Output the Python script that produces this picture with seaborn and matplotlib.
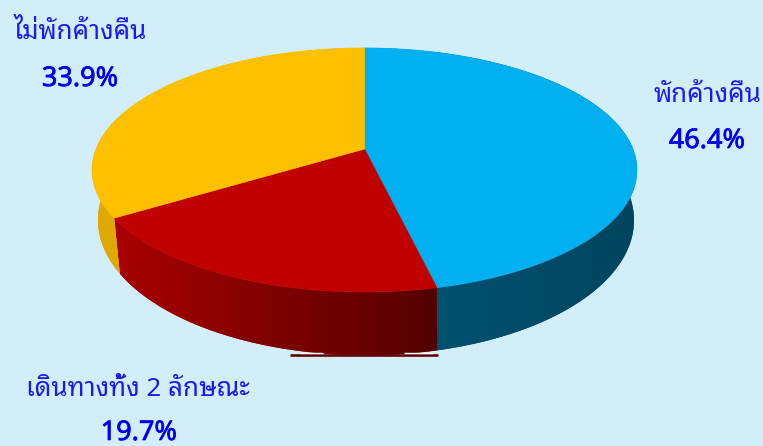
import numpy as np
import matplotlib
matplotlib.use("Agg")
import matplotlib.pyplot as plt
import matplotlib.patheffects as pe
from matplotlib.patches import Polygon
import seaborn as sns

# Data
categories = ["พักค้างคืน", "เดินทางทั้ง 2 ลักษณะ", "ไม่พักค้างคืน"]
shares = [46.4, 19.7, 33.9]

# Colors
bg_color = "#D1EEF9"
top_colors = ["#00B0F0", "#C00000", "#FFC000"]
side_colors = [["#00516F", "#00455F"], ["#A80000", "#520000"], ["#E0A900", "#E0A900"]]

# Label positions in pixels (name x, name y, pct x, pct y)
label_pos = [(707.5, 95, 707, 141), (138, 390, 139, 433), (80.5, 32, 80, 79)]

sns.set_theme(style="white")
plt.rcParams["font.family"] = ["Noto Sans Thai Looped", "Noto Sans Thai", "Sarabun", "Noto Sans", "DejaVu Sans"]

fig = plt.figure(figsize=(7.63, 4.46), dpi=100, facecolor=bg_color)
ax = fig.add_axes([0, 0, 1, 1])

# let the pie work out the slice angles, then tilt them by hand
wedges, _ = ax.pie(shares, startangle=90, counterclock=False, colors=top_colors)
angles = [(w.theta1, w.theta2) for w in wedges]
for w in wedges:
    w.remove()

ax.set_aspect("auto")
ax.axis("off")


def project(theta, width, height, cy, cx=364.5, tilt=0.172):
    # perspective view of the unit circle
    t = np.radians(theta)
    x, y = np.cos(t), np.sin(t)
    w = 1 + tilt * y
    return cx + width * x / w, cy - height * y / w


top = dict(width=268.4, height=118.4, cy=149)
bottom = dict(width=264, height=131, cy=197, cx=366)

# sides first, the top face covers their back half
for (t1, t2), cols in zip(angles, side_colors):
    theta = np.linspace(t1, t2, 200)
    xt, yt = project(theta, **top)
    xb, yb = project(theta, **bottom)
    outline = np.r_[np.c_[xt, yt], np.c_[xb, yb][::-1]]
    shape = Polygon(outline, closed=True, fc=cols[0], ec="none", zorder=0.5)
    ax.add_patch(shape)
    # gradient runs from left to right over the front of the slice
    front = project(theta[np.sin(np.radians(theta)) < 0.2], **bottom)[0]
    cmap = sns.blend_palette(cols, as_cmap=True)
    img = ax.imshow(np.linspace(0, 1, 256)[None, :], cmap=cmap, aspect="auto",
                    extent=(front.min(), front.max(), 446, 0), zorder=1)
    img.set_clip_path(shape)

for (t1, t2), col in zip(angles, top_colors):
    xt, yt = project(np.linspace(t1, t2, 200), **top)
    pts = np.r_[[[364.5, top["cy"]]], np.c_[xt, yt]]
    ax.add_patch(Polygon(pts, closed=True, fc=col, ec=col, lw=0.5, zorder=2))

# the source image is cut off flat under the pie, with white slivers beside it
ax.hlines(355.4, 290, 438, color="#680000", lw=1.9, zorder=1.5)
ax.hlines([352.8, 352.8], [300, 404], [323, 432], color="white", lw=1, zorder=1.5)

ax.set_xlim(0, 763)
ax.set_ylim(446, 0)

for name, share, (nx, ny, px, py) in zip(categories, shares, label_pos):
    ax.text(nx, ny, name, color="#1A1AF0", fontsize=18.7, ha="center", va="center", zorder=3)
    ax.text(px, py, f"{share:.1f}%", color="#0000F0", fontsize=19.5,
            family=["Noto Sans", "DejaVu Sans"], ha="center", va="center", zorder=3,
            path_effects=[pe.withStroke(linewidth=0.5, foreground="#0000F0")])

fig.savefig("out.png", dpi=100, facecolor=bg_color)
